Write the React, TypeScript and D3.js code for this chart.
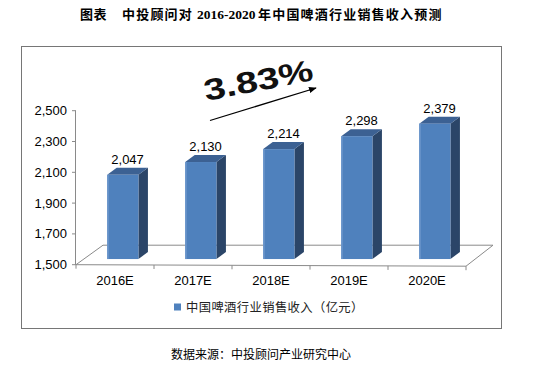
import * as d3 from 'd3'
import { useEffect, useRef } from 'react'

const categories = ['2016E', '2017E', '2018E', '2019E', '2020E']
const revenue = [2047, 2130, 2214, 2298, 2379]
const yTicks = [1500, 1700, 1900, 2100, 2300, 2500]
const seriesName = '中国啤酒行业销售收入（亿元）'
const growthLabel = '3.83%'
const sourceNote = '数据来源：中投顾问产业研究中心'

export default function App() {
  const ref = useRef<SVGSVGElement | null>(null)

  useEffect(() => {
    const el = ref.current
    if (!el) return
    const svg = d3.select(el)
    svg.selectAll('*').remove()

    const font = 'Arial, "Liberation Sans", sans-serif'
    const cjk = '"Noto Sans CJK SC", sans-serif'

    // outer frame
    svg.append('rect')
      .attr('x', 21.5).attr('y', 46.5).attr('width', 480).attr('height', 282)
      .attr('fill', 'none').attr('stroke', '#767676').attr('stroke-width', 1)

    // title
    const title = svg.append('text').attr('y', 18.5).attr('font-size', 13).attr('font-weight', 'bold').attr('fill', '#000')
    title.append('tspan').attr('x', 80).attr('font-family', cjk).attr('letter-spacing', 0.5).text('图表')
    title.append('tspan').attr('x', 122).attr('font-family', cjk).attr('letter-spacing', 1.2).text('中投顾问对')
    title.append('tspan').attr('x', 197).attr('font-family', '"Liberation Serif", serif').attr('font-size', 13.5).text('2016-2020')
    title.append('tspan').attr('x', 258).attr('font-family', cjk).attr('letter-spacing', 1.2).text('年中国啤酒行业销售收入预测')

    const x = d3.scaleBand().domain(categories).range([76, 466]).padding(0)
    const y = d3.scaleLinear().domain([1500, 2500]).range([264.7, 110.7])
    const step = x.step()
    const depth = { dx: 27, dy: -19.5 }
    const barFrac = 0.29
    const barDepth = { dx: 9.5, dy: -7 }
    const barW = step * 0.4

    const floorY = y(1500)
    const x0 = x.range()[0]
    const x1 = x.range()[1]

    // floor
    const g = svg.append('g').attr('fill', 'none').attr('stroke', '#8a8a8a').attr('stroke-width', 1)
    g.append('path').attr('d', `M${x0},${floorY}L${x0 + depth.dx},${floorY + depth.dy}L${x1 + depth.dx},${floorY + depth.dy}L${x1},${floorY + 1.5}`)

    // bars
    const ox = depth.dx * barFrac
    const oy = depth.dy * barFrac
    const bars = svg.append('g')
    categories.forEach((c, i) => {
      const v = revenue[i]
      const bx = (x(c) as number) + (step - barW) / 2 + ox
      const top = y(v) + oy
      const bottom = floorY + oy
      // side
      bars.append('path')
        .attr('d', `M${bx + barW},${top}L${bx + barW + barDepth.dx},${top + barDepth.dy}L${bx + barW + barDepth.dx},${bottom + barDepth.dy}L${bx + barW},${bottom}Z`)
        .attr('fill', '#2b4568')
      // top
      bars.append('path')
        .attr('d', `M${bx},${top}L${bx + barDepth.dx},${top + barDepth.dy}L${bx + barW + barDepth.dx},${top + barDepth.dy}L${bx + barW},${top}Z`)
        .attr('fill', '#3c6193')
      // front
      bars.append('rect')
        .attr('x', bx).attr('y', top).attr('width', barW).attr('height', bottom - top)
        .attr('fill', '#4f81bd')
      bars.append('rect')
        .attr('x', bx).attr('y', top).attr('width', 1.5).attr('height', bottom - top)
        .attr('fill', '#6c97cc')
      // value label
      bars.append('text')
        .attr('x', bx + (barW + barDepth.dx) / 2)
        .attr('y', top + barDepth.dy - 4)
        .attr('text-anchor', 'middle')
        .attr('font-family', font).attr('font-size', 13).attr('fill', '#000')
        .text(d3.format(',')(v))
    })

    // front floor line on top of bars
    svg.append('line').attr('x1', x0).attr('x2', x1).attr('y1', floorY).attr('y2', floorY + 1.5)
      .attr('stroke', '#8a8a8a')

    // y axis
    const ya = svg.append('g').attr('stroke', '#8a8a8a')
    ya.append('line').attr('x1', x0 - 0.5).attr('x2', x0 - 0.5).attr('y1', y(2500)).attr('y2', floorY)
    yTicks.forEach((t) => {
      ya.append('line').attr('x1', x0 - 4).attr('x2', x0).attr('y1', y(t)).attr('y2', y(t))
      svg.append('text')
        .attr('x', 67).attr('y', y(t) + 4.5)
        .attr('text-anchor', 'end')
        .attr('font-family', font).attr('font-size', 13).attr('fill', '#000')
        .text(d3.format(',')(t))
    })

    // x axis ticks and labels
    const bounds = [...categories.map((c) => x(c) as number), x1]
    bounds.forEach((b, i) => {
      svg.append('line').attr('x1', b).attr('x2', b).attr('y1', floorY + (1.5 * i) / 5).attr('y2', floorY + 4 + (1.5 * i) / 5)
        .attr('stroke', '#8a8a8a')
    })
    categories.forEach((c) => {
      svg.append('text')
        .attr('x', (x(c) as number) + step / 2).attr('y', 285)
        .attr('text-anchor', 'middle')
        .attr('font-family', font).attr('font-size', 13).attr('fill', '#000')
        .text(c)
    })

    // growth annotation
    const defs = svg.append('defs')
    defs.append('marker').attr('id', 'arrowhead')
      .attr('viewBox', '0 0 10 10').attr('refX', 9).attr('refY', 5)
      .attr('markerWidth', 6).attr('markerHeight', 6).attr('orient', 'auto')
      .attr('markerUnits', 'strokeWidth')
      .append('path').attr('d', 'M0,1L10,5L0,9Z').attr('fill', '#000')
    svg.append('line')
      .attr('x1', 210).attr('y1', 120.5).attr('x2', 316).attr('y2', 88)
      .attr('stroke', '#000').attr('stroke-width', 1.3).attr('marker-end', 'url(#arrowhead)')
    svg.append('text')
      .attr('transform', 'translate(206,101) rotate(-11) scale(1.3,1)')
      .attr('font-family', font).attr('font-size', 30).attr('font-weight', 'bold').attr('fill', '#111')
      .text(growthLabel)

    // legend
    svg.append('rect').attr('x', 174).attr('y', 303.5).attr('width', 7).attr('height', 7).attr('fill', '#4f81bd')
    svg.append('text')
      .attr('x', 186).attr('y', 311.5)
      .attr('font-family', cjk).attr('font-size', 12.3).attr('letter-spacing', 0.4).attr('fill', '#222')
      .text(seriesName)

    // source
    svg.append('text')
      .attr('x', 171).attr('y', 359)
      .attr('font-family', cjk).attr('font-size', 12).attr('fill', '#000')
      .text(sourceNote)
  }, [])

  return (
    <svg ref={ref} width={560} height={371} style={{ position: 'absolute', left: 0, top: 0, background: '#fff' }} />
  )
}
